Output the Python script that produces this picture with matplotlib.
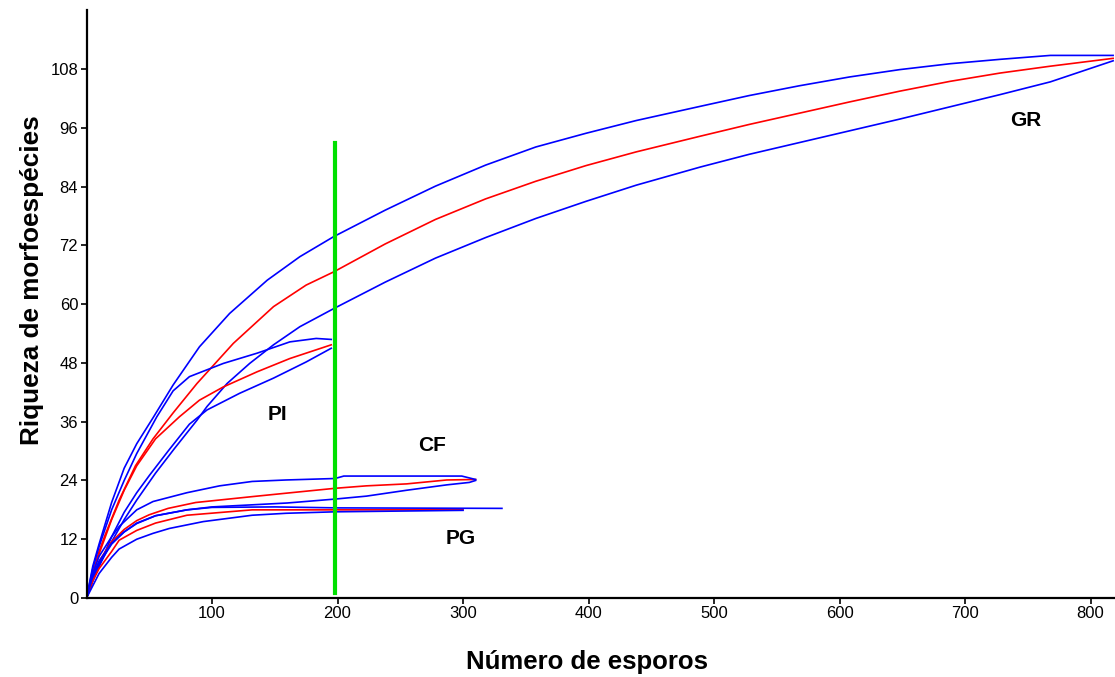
import matplotlib

matplotlib.use("Agg")
import matplotlib.pyplot as plt  # noqa: E402

BLUE = "#0000ff"
RED = "#ff0000"
GREEN = "#00e000"
SANS = ["Liberation Sans", "DejaVu Sans"]

# GR
gr_up_x = [0, 5, 10, 20, 30, 40, 53, 69, 90, 114, 144, 170, 197, 238, 278, 318, 358, 398, 438, 489,
           528, 568, 608, 648, 688, 728, 768, 818]
gr_up_y = [0, 6.5, 11, 19.5, 26.5, 31.5, 36.8, 43.5, 51.3, 58.1, 64.9, 69.7, 73.8, 79.2, 84.1, 88.4, 92.1, 94.9, 97.5, 100.4,
           102.6, 104.6, 106.4, 107.9, 109.1, 110.0, 110.8, 110.8]
gr_mean_x = [0, 5, 10, 15, 26, 39, 53, 69, 88, 117, 149, 175, 197, 238, 278, 318, 358, 398, 438, 489,
             528, 568, 608, 648, 688, 728, 768, 818]
gr_mean_y = [0, 5, 9.5, 13, 20, 27, 32.5, 37.8, 43.8, 52.0, 59.5, 63.9, 66.6, 72.3, 77.3, 81.5, 85.1, 88.3, 91.1, 94.3,
             96.7, 99.0, 101.3, 103.5, 105.5, 107.2, 108.6, 110.2]
gr_low_x = [0, 5, 10, 20, 30, 40, 55, 70, 88, 96, 112, 130, 149, 170, 197, 238, 278, 318, 358, 398, 438, 489,
            528, 568, 608, 648, 688, 728, 768, 818]
gr_low_y = [0, 3.5, 6.5, 11.5, 16, 20, 25.5, 30.5, 36.3, 39.1, 43.8, 47.9, 51.7, 55.4, 59.1, 64.5, 69.4, 73.6, 77.5, 81.0, 84.3, 88.0,
            90.6, 93.0, 95.4, 97.8, 100.3, 102.8, 105.4, 109.7]

# PI
pi_up_x = [0, 5, 10, 20, 30, 40, 56, 69, 82, 109, 136, 162, 183, 195]
pi_up_y = [0, 6, 10.5, 18, 24, 29.5, 37, 42.3, 45.2, 47.9, 50.0, 52.3, 53.0, 52.8]
pi_mean_x = [0, 5, 10, 20, 30, 40, 55, 74, 90, 109, 136, 162, 195]
pi_mean_y = [0, 5, 9, 16, 22, 27, 32.5, 37, 40.4, 43.1, 46.2, 48.9, 51.7]
pi_low_x = [0, 5, 10, 20, 30, 40, 50, 65, 82, 96, 122, 149, 175, 195]
pi_low_y = [0, 3.5, 6.5, 12.5, 17.5, 21.5, 25, 30, 35.5, 38.4, 41.8, 44.9, 48.2, 51.0]

# CF
cf_up_x = [0, 5, 10, 20, 26, 40, 53, 80, 106, 132, 159, 198, 205, 299, 310]
cf_up_y = [0, 5, 8.5, 12.5, 14.6, 18, 19.7, 21.5, 22.9, 23.8, 24.1, 24.4, 24.9, 24.9, 24.2]
cf_mean_x = [0, 5, 10, 20, 30, 40, 50, 65, 87, 132, 159, 198, 223, 255, 287, 310]
cf_mean_y = [0, 4.5, 7.5, 11.5, 14, 15.8, 17, 18.3, 19.5, 20.7, 21.4, 22.4, 22.9, 23.3, 24.1, 24.2]
cf_low_x = [0, 5, 10, 20, 30, 40, 55, 80, 100, 130, 160, 198, 223, 255, 287, 305, 310]
cf_low_y = [0, 4, 7, 11, 13.5, 15.3, 16.8, 18, 18.6, 19, 19.4, 20.2, 20.8, 22, 23.1, 23.6, 24]

# PG
pg_up_x = [0, 5, 10, 20, 30, 40, 55, 80, 100, 150, 200, 331]
pg_up_y = [0, 4.5, 7.5, 11.2, 13.5, 15.2, 16.8, 18, 18.5, 18.6, 18.4, 18.3]
pg_mean_x = [0, 5, 10, 20, 26, 40, 55, 80, 132, 200, 300]
pg_mean_y = [0, 3.5, 6, 9.5, 11.8, 13.8, 15.3, 16.9, 18, 18, 18]
pg_low_x = [0, 5, 10, 20, 26, 40, 53, 66, 93, 132, 159, 198, 300]
pg_low_y = [0, 2.5, 5, 8.3, 10, 12, 13.2, 14.2, 15.6, 16.9, 17.3, 17.6, 17.9]

cut_x = 198
cut_y = [1, 93]

labels = ["GR", "PI", "CF", "PG"]
label_x = [748, 152, 275, 298]
label_y = [97.6, 37.4, 31.2, 12.2]

y_ticks = list(range(0, 109, 12))
x_ticks = list(range(100, 801, 100))

fig = plt.figure(figsize=(11.15, 6.77), dpi=100)
ax = fig.add_axes([0.0776, 0.1167, 0.9224, 0.868])

groups = [
    (gr_up_x, gr_up_y, gr_mean_x, gr_mean_y, gr_low_x, gr_low_y),
    (pi_up_x, pi_up_y, pi_mean_x, pi_mean_y, pi_low_x, pi_low_y),
    (cf_up_x, cf_up_y, cf_mean_x, cf_mean_y, cf_low_x, cf_low_y),
    (pg_up_x, pg_up_y, pg_mean_x, pg_mean_y, pg_low_x, pg_low_y),
]
for ux, uy, mx, my, lx, ly in groups:
    ax.plot(mx, my, color=RED, lw=1.2)
    ax.plot(ux, uy, color=BLUE, lw=1.2)
    ax.plot(lx, ly, color=BLUE, lw=1.2)

ax.plot([cut_x, cut_x], cut_y, color=GREEN, lw=3)

for t, x, y in zip(labels, label_x, label_y):
    ax.text(x, y, t, ha="center", va="center", fontsize=15, fontweight="bold",
            family=SANS, color="black")

ax.set_xlim(0, 819.5)
ax.set_ylim(0, 120)
ax.set_yticks(y_ticks)
ax.set_xticks(x_ticks)
ax.set_yticklabels([str(v) for v in y_ticks], fontsize=12, family=SANS)
ax.set_xticklabels([str(v) for v in x_ticks], fontsize=12, family=SANS)
ax.tick_params(direction="out", length=4, width=1.2, colors="black", pad=2)

ax.spines[["top", "right"]].set_visible(False)
ax.spines[["left", "bottom"]].set_linewidth(1.6)

ax.set_ylabel("Riqueza de morfoespécies", fontsize=18.8, fontweight="bold", family=SANS)
ax.yaxis.set_label_coords(-0.041, 0.541)
ax.set_xlabel("Número de esporos", fontsize=18.5, fontweight="bold", family=SANS)
ax.xaxis.set_label_coords(0.4866, -0.088)

fig.savefig("out.png", dpi=100)
plt.close(fig)
